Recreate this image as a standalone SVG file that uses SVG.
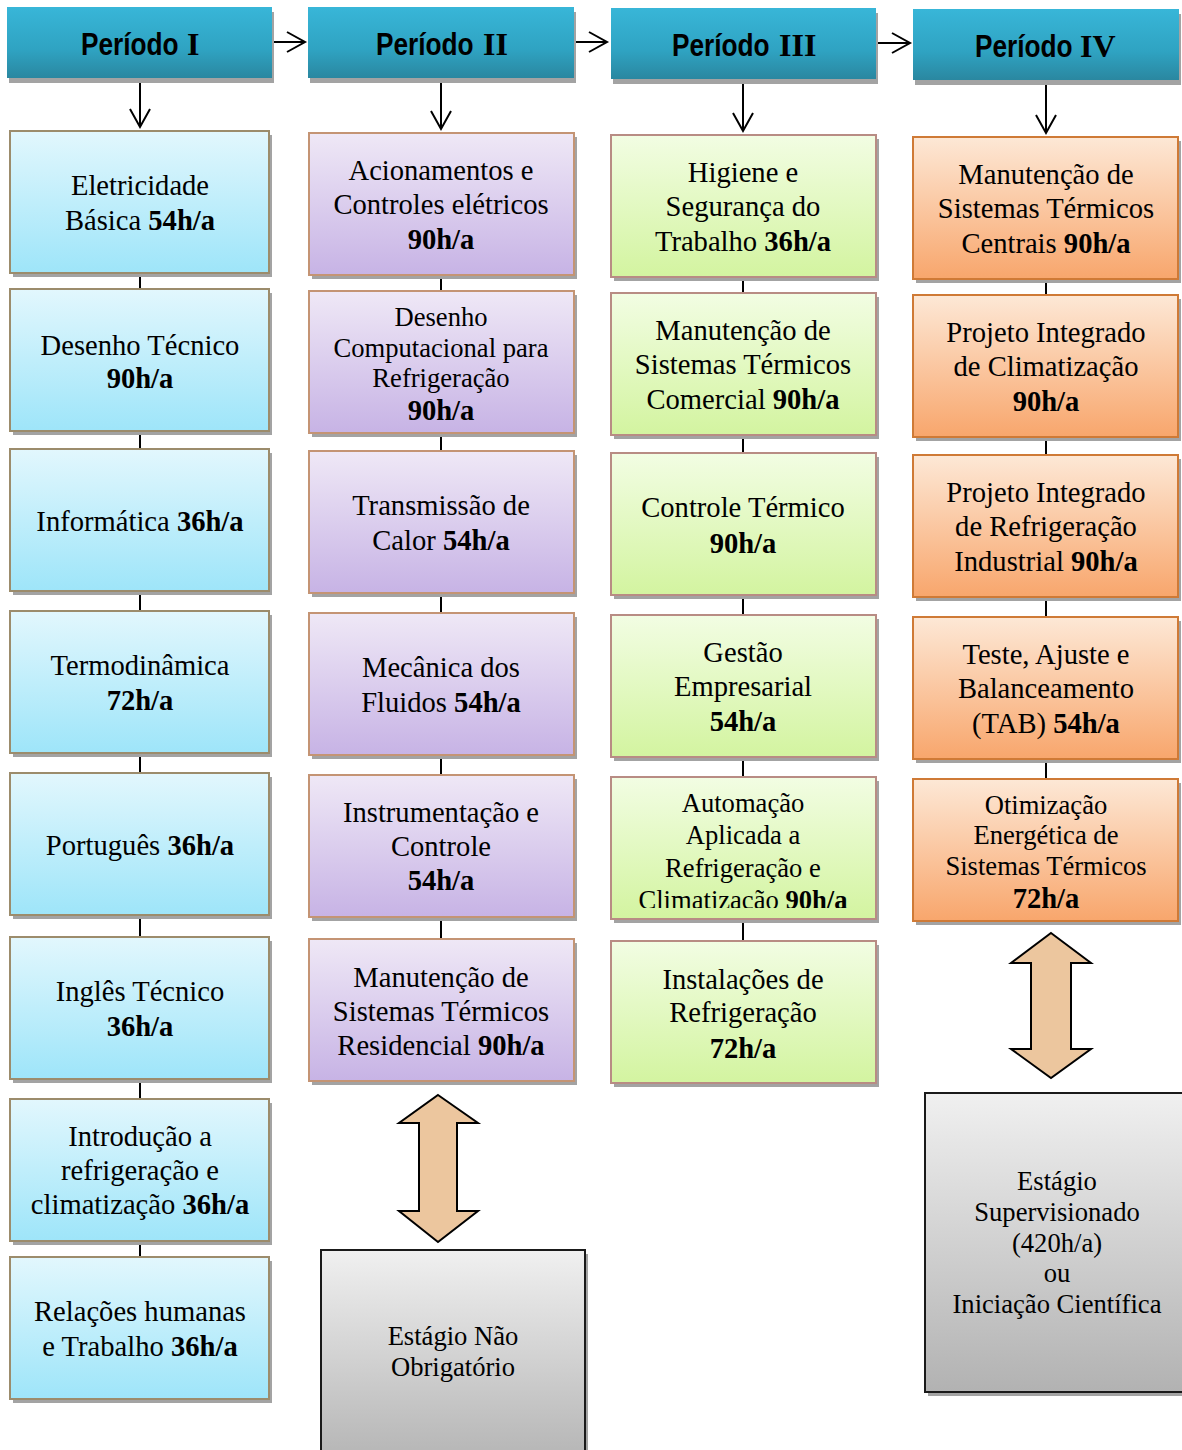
<svg xmlns="http://www.w3.org/2000/svg" width="1182" height="1450" viewBox="0 0 1182 1450">
<style>
.t{font-family:"Liberation Serif","Times New Roman",serif;font-size:28.6px;text-anchor:middle;fill:#000}
.s{font-size:26.6px}
.g{font-size:26.6px}
.b{font-weight:bold}
.hs{font-family:"Liberation Sans",Arial,sans-serif;font-weight:bold;font-size:32px;fill:#000}
.hr{font-family:"Liberation Serif","Times New Roman",serif;font-weight:bold;font-size:32px;fill:#000}
.sh{fill:#a3a3a3}
.hdr{fill:url(#gBlue)}
.c1{fill:url(#gCyan);stroke:#9c8c6c;stroke-width:2}
.c2{fill:url(#gPurple);stroke:#c49474;stroke-width:2}
.c3{fill:url(#gGreen);stroke:#b88c84;stroke-width:2}
.c4{fill:url(#gOrange);stroke:#cf7a36;stroke-width:2}
.gb{fill:url(#gGray);stroke:#1a1a1a;stroke-width:2}
.dar{fill:#ecc69e;stroke:#000;stroke-width:2;stroke-linejoin:miter}
.ln{stroke:#000;stroke-width:2;fill:none}
.ar{stroke:#000;stroke-width:2;fill:none;marker-end:url(#arr)}
</style>
<defs>
<linearGradient id="gBlue" x1="0" y1="0" x2="0" y2="1"><stop offset="0" stop-color="#38b6d8"/><stop offset="0.6" stop-color="#2fa3c2"/><stop offset="1" stop-color="#2a87a0"/></linearGradient>
<linearGradient id="gCyan" x1="0" y1="0" x2="0" y2="1"><stop offset="0" stop-color="#e2f7fd"/><stop offset="1" stop-color="#9ee5f9"/></linearGradient>
<linearGradient id="gPurple" x1="0" y1="0" x2="0" y2="1"><stop offset="0" stop-color="#efe8f6"/><stop offset="1" stop-color="#c7b3e5"/></linearGradient>
<linearGradient id="gGreen" x1="0" y1="0" x2="0" y2="1"><stop offset="0" stop-color="#f2fde3"/><stop offset="1" stop-color="#d3f4a0"/></linearGradient>
<linearGradient id="gOrange" x1="0" y1="0" x2="0" y2="1"><stop offset="0" stop-color="#fde8d6"/><stop offset="1" stop-color="#f8a66c"/></linearGradient>
<linearGradient id="gGray" x1="0" y1="0" x2="0" y2="1"><stop offset="0" stop-color="#f0f0f0"/><stop offset="1" stop-color="#b2b2b2"/></linearGradient>
<marker id="arr" markerUnits="userSpaceOnUse" markerWidth="22" markerHeight="24" viewBox="0 0 22 24" refX="19" refY="12" orient="auto">
<path d="M1,2 L19,12 L1,22" fill="none" stroke="#000" stroke-width="2"/>
</marker>
<clipPath id="clipAuto"><rect x="611" y="777" width="265" height="131"/></clipPath>
</defs>

<g id="connectors">
<line class="ar" x1="272" y1="42" x2="305" y2="42"/>
<line class="ar" x1="574" y1="42" x2="607" y2="42"/>
<line class="ar" x1="876" y1="43" x2="910" y2="43"/>
<line class="ar" x1="140" y1="80" x2="140" y2="127"/>
<line class="ar" x1="441" y1="80" x2="441" y2="129"/>
<line class="ar" x1="743" y1="80" x2="743" y2="131"/>
<line class="ar" x1="1046" y1="82" x2="1046" y2="133"/>
<line class="ln" x1="140" y1="273" x2="140" y2="289"/>
<line class="ln" x1="140" y1="431" x2="140" y2="449"/>
<line class="ln" x1="140" y1="591" x2="140" y2="611"/>
<line class="ln" x1="140" y1="753" x2="140" y2="773"/>
<line class="ln" x1="140" y1="915" x2="140" y2="937"/>
<line class="ln" x1="140" y1="1079" x2="140" y2="1099"/>
<line class="ln" x1="140" y1="1241" x2="140" y2="1257"/>
<line class="ln" x1="441" y1="275" x2="441" y2="291"/>
<line class="ln" x1="441" y1="433" x2="441" y2="451"/>
<line class="ln" x1="441" y1="593" x2="441" y2="613"/>
<line class="ln" x1="441" y1="755" x2="441" y2="775"/>
<line class="ln" x1="441" y1="917" x2="441" y2="939"/>
<line class="ln" x1="743" y1="277" x2="743" y2="293"/>
<line class="ln" x1="743" y1="435" x2="743" y2="453"/>
<line class="ln" x1="743" y1="595" x2="743" y2="615"/>
<line class="ln" x1="743" y1="757" x2="743" y2="777"/>
<line class="ln" x1="743" y1="919" x2="743" y2="941"/>
<line class="ln" x1="1046" y1="279" x2="1046" y2="295"/>
<line class="ln" x1="1046" y1="437" x2="1046" y2="455"/>
<line class="ln" x1="1046" y1="597" x2="1046" y2="617"/>
<line class="ln" x1="1046" y1="759" x2="1046" y2="779"/>
<path class="dar" d="M438,1095 L478,1123 L457,1123 L457,1211 L478,1211 L438,1242 L399,1211 L419,1211 L419,1123 L399,1123 Z"/>
<path class="dar" d="M1051,933 L1091,963 L1071,963 L1071,1049 L1091,1049 L1051,1078 L1011,1049 L1031,1049 L1031,963 L1011,963 Z"/>
</g>

<g id="h1"><rect class="sh" x="9" y="12" width="265" height="71"/><rect class="hdr" x="7" y="7" width="265" height="71"/><text class="hs" transform="translate(81,55) scale(0.82,1)">Período</text><text class="hr" x="187" y="55">I</text></g>
<g id="h2"><rect class="sh" x="310" y="12" width="266" height="71"/><rect class="hdr" x="308" y="7" width="266" height="71"/><text class="hs" transform="translate(376,55) scale(0.82,1)">Período</text><text class="hr" x="483" y="55">II</text></g>
<g id="h3"><rect class="sh" x="613" y="13" width="265" height="71"/><rect class="hdr" x="611" y="8" width="265" height="71"/><text class="hs" transform="translate(672,56) scale(0.82,1)">Período</text><text class="hr" x="779" y="56">III</text></g>
<g id="h4"><rect class="sh" x="915" y="14" width="266" height="71"/><rect class="hdr" x="913" y="9" width="266" height="71"/><text class="hs" transform="translate(975,57) scale(0.82,1)">Período</text><text class="hr" x="1080" y="57">IV</text></g>

<!-- Column I -->
<g id="p1a"><rect class="sh" x="13" y="135" width="259" height="142"/><rect class="c1" x="10" y="131" width="259" height="142"/><text class="t" x="140" y="195">Eletricidade</text><text class="t" x="140" y="230">Básica <tspan class="b">54h/a</tspan></text></g>
<g id="p1b"><rect class="sh" x="13" y="293" width="259" height="142"/><rect class="c1" x="10" y="289" width="259" height="142"/><text class="t" x="140" y="355">Desenho Técnico</text><text class="t b" x="140" y="388">90h/a</text></g>
<g id="p1c"><rect class="sh" x="13" y="453" width="259" height="142"/><rect class="c1" x="10" y="449" width="259" height="142"/><text class="t" x="140" y="531">Informática <tspan class="b">36h/a</tspan></text></g>
<g id="p1d"><rect class="sh" x="13" y="615" width="259" height="142"/><rect class="c1" x="10" y="611" width="259" height="142"/><text class="t" x="140" y="675">Termodinâmica</text><text class="t b" x="140" y="710">72h/a</text></g>
<g id="p1e"><rect class="sh" x="13" y="777" width="259" height="142"/><rect class="c1" x="10" y="773" width="259" height="142"/><text class="t" x="140" y="855">Português <tspan class="b">36h/a</tspan></text></g>
<g id="p1f"><rect class="sh" x="13" y="941" width="259" height="142"/><rect class="c1" x="10" y="937" width="259" height="142"/><text class="t" x="140" y="1001">Inglês Técnico</text><text class="t b" x="140" y="1036">36h/a</text></g>
<g id="p1g"><rect class="sh" x="13" y="1103" width="259" height="142"/><rect class="c1" x="10" y="1099" width="259" height="142"/><text class="t" x="140" y="1146">Introdução a</text><text class="t" x="140" y="1180">refrigeração e</text><text class="t" x="140" y="1214">climatização <tspan class="b">36h/a</tspan></text></g>
<g id="p1h"><rect class="sh" x="13" y="1261" width="259" height="142"/><rect class="c1" x="10" y="1257" width="259" height="142"/><text class="t" x="140" y="1321">Relações humanas</text><text class="t" x="140" y="1356">e Trabalho <tspan class="b">36h/a</tspan></text></g>

<!-- Column II -->
<g id="p2a"><rect class="sh" x="312" y="137" width="265" height="142"/><rect class="c2" x="309" y="133" width="265" height="142"/><text class="t" x="441" y="180">Acionamentos e</text><text class="t" x="441" y="214">Controles elétricos</text><text class="t b" x="441" y="249">90h/a</text></g>
<g id="p2b"><rect class="sh" x="312" y="295" width="265" height="142"/><rect class="c2" x="309" y="291" width="265" height="142"/><text class="t s" x="441" y="326">Desenho</text><text class="t s" x="441" y="357">Computacional para</text><text class="t s" x="441" y="387">Refrigeração</text><text class="t b" x="441" y="420">90h/a</text></g>
<g id="p2c"><rect class="sh" x="312" y="455" width="265" height="142"/><rect class="c2" x="309" y="451" width="265" height="142"/><text class="t" x="441" y="515">Transmissão de</text><text class="t" x="441" y="550">Calor <tspan class="b">54h/a</tspan></text></g>
<g id="p2d"><rect class="sh" x="312" y="617" width="265" height="142"/><rect class="c2" x="309" y="613" width="265" height="142"/><text class="t" x="441" y="677">Mecânica dos</text><text class="t" x="441" y="712">Fluidos <tspan class="b">54h/a</tspan></text></g>
<g id="p2e"><rect class="sh" x="312" y="779" width="265" height="142"/><rect class="c2" x="309" y="775" width="265" height="142"/><text class="t" x="441" y="822">Instrumentação e</text><text class="t" x="441" y="856">Controle</text><text class="t b" x="441" y="890">54h/a</text></g>
<g id="p2f"><rect class="sh" x="312" y="943" width="265" height="142"/><rect class="c2" x="309" y="939" width="265" height="142"/><text class="t" x="441" y="987">Manutenção de</text><text class="t" x="441" y="1021">Sistemas Térmicos</text><text class="t" x="441" y="1055">Residencial <tspan class="b">90h/a</tspan></text></g>
<g id="est2"><rect class="sh" x="324" y="1254" width="264" height="220"/><rect class="gb" x="321" y="1250" width="264" height="220"/><text class="t g" x="453" y="1345">Estágio Não</text><text class="t g" x="453" y="1376">Obrigatório</text></g>

<!-- Column III -->
<g id="p3a"><rect class="sh" x="614" y="139" width="265" height="142"/><rect class="c3" x="611" y="135" width="265" height="142"/><text class="t" x="743" y="182">Higiene e</text><text class="t" x="743" y="216">Segurança do</text><text class="t" x="743" y="251">Trabalho <tspan class="b">36h/a</tspan></text></g>
<g id="p3b"><rect class="sh" x="614" y="297" width="265" height="142"/><rect class="c3" x="611" y="293" width="265" height="142"/><text class="t" x="743" y="340">Manutenção de</text><text class="t" x="743" y="374">Sistemas Térmicos</text><text class="t" x="743" y="409">Comercial <tspan class="b">90h/a</tspan></text></g>
<g id="p3c"><rect class="sh" x="614" y="457" width="265" height="142"/><rect class="c3" x="611" y="453" width="265" height="142"/><text class="t" x="743" y="517">Controle Térmico</text><text class="t b" x="743" y="553">90h/a</text></g>
<g id="p3d"><rect class="sh" x="614" y="619" width="265" height="142"/><rect class="c3" x="611" y="615" width="265" height="142"/><text class="t" x="743" y="662">Gestão</text><text class="t" x="743" y="696">Empresarial</text><text class="t b" x="743" y="731">54h/a</text></g>
<g id="p3e"><rect class="sh" x="614" y="781" width="265" height="142"/><rect class="c3" x="611" y="777" width="265" height="142"/><g clip-path="url(#clipAuto)"><text class="t s" x="743" y="812">Automação</text><text class="t s" x="743" y="844">Aplicada a</text><text class="t s" x="743" y="877">Refrigeração e</text><text class="t s" x="743" y="909">Climatização <tspan class="b">90h/a</tspan></text></g></g>
<g id="p3f"><rect class="sh" x="614" y="945" width="265" height="142"/><rect class="c3" x="611" y="941" width="265" height="142"/><text class="t" x="743" y="989">Instalações de</text><text class="t" x="743" y="1022">Refrigeração</text><text class="t b" x="743" y="1058">72h/a</text></g>

<!-- Column IV -->
<g id="p4a"><rect class="sh" x="916" y="141" width="265" height="142"/><rect class="c4" x="913" y="137" width="265" height="142"/><text class="t" x="1046" y="184">Manutenção de</text><text class="t" x="1046" y="218">Sistemas Térmicos</text><text class="t" x="1046" y="253">Centrais <tspan class="b">90h/a</tspan></text></g>
<g id="p4b"><rect class="sh" x="916" y="299" width="265" height="142"/><rect class="c4" x="913" y="295" width="265" height="142"/><text class="t" x="1046" y="342">Projeto Integrado</text><text class="t" x="1046" y="376">de Climatização</text><text class="t b" x="1046" y="411">90h/a</text></g>
<g id="p4c"><rect class="sh" x="916" y="459" width="265" height="142"/><rect class="c4" x="913" y="455" width="265" height="142"/><text class="t" x="1046" y="502">Projeto Integrado</text><text class="t" x="1046" y="536">de Refrigeração</text><text class="t" x="1046" y="571">Industrial <tspan class="b">90h/a</tspan></text></g>
<g id="p4d"><rect class="sh" x="916" y="621" width="265" height="142"/><rect class="c4" x="913" y="617" width="265" height="142"/><text class="t" x="1046" y="664">Teste, Ajuste e</text><text class="t" x="1046" y="698">Balanceamento</text><text class="t" x="1046" y="733">(TAB) <tspan class="b">54h/a</tspan></text></g>
<g id="p4e"><rect class="sh" x="916" y="783" width="265" height="142"/><rect class="c4" x="913" y="779" width="265" height="142"/><text class="t s" x="1046" y="814">Otimização</text><text class="t s" x="1046" y="844">Energética de</text><text class="t s" x="1046" y="875">Sistemas Térmicos</text><text class="t b" x="1046" y="908">72h/a</text></g>
<g id="est4"><rect class="sh" x="928" y="1097" width="270" height="299"/><rect class="gb" x="925" y="1093" width="270" height="299"/><text class="t g" x="1057" y="1190">Estágio</text><text class="t g" x="1057" y="1221">Supervisionado</text><text class="t g" x="1057" y="1252">(420h/a)</text><text class="t g" x="1057" y="1282">ou</text><text class="t g" x="1057" y="1313">Iniciação Científica</text></g>
</svg>
